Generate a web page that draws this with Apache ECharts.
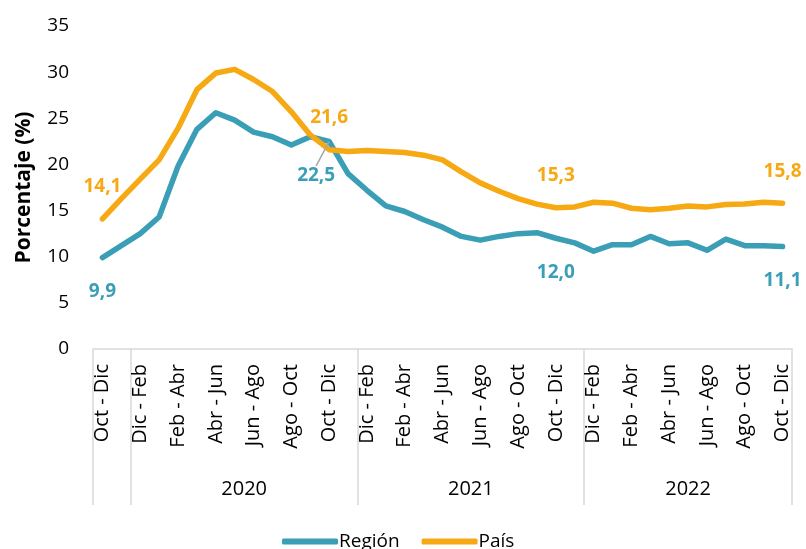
<!DOCTYPE html>
<html>
<head>
<meta charset="utf-8">
<script src="https://cdn.jsdelivr.net/npm/echarts@6/dist/echarts.min.js"></script>
<style>
  html, body { margin: 0; padding: 0; background: #fff; }
  #chart { width: 806px; height: 549px; }
</style>
</head>
<body>
<div id="chart"></div>
<script>
    // trimestres móviles, oct-dic 2019 a oct-dic 2022
    var categories = [
        'Oct - Dic', 'Nov - Ene',
        'Dic - Feb', 'Ene - Mar', 'Feb - Abr', 'Mar - May', 'Abr - Jun', 'May - Jul',
        'Jun - Ago', 'Jul - Sep', 'Ago - Oct', 'Sep - Nov', 'Oct - Dic', 'Nov - Ene',
        'Dic - Feb', 'Ene - Mar', 'Feb - Abr', 'Mar - May', 'Abr - Jun', 'May - Jul',
        'Jun - Ago', 'Jul - Sep', 'Ago - Oct', 'Sep - Nov', 'Oct - Dic', 'Nov - Ene',
        'Dic - Feb', 'Ene - Mar', 'Feb - Abr', 'Mar - May', 'Abr - Jun', 'May - Jul',
        'Jun - Ago', 'Jul - Sep', 'Ago - Oct', 'Sep - Nov', 'Oct - Dic'
    ];
    var regionValues = [
        9.9, 11.2, 12.5, 14.3, 19.8, 23.8, 25.6, 24.8, 23.5, 23.0, 22.1, 23.0, 22.5,
        19.0, 17.2, 15.5, 14.9, 14.0, 13.2, 12.2, 11.8, 12.2, 12.5, 12.6, 12.0,
        11.5, 10.6, 11.3, 11.3, 12.2, 11.4, 11.5, 10.7, 11.9, 11.2, 11.2, 11.1
    ];
    var paisValues = [
        14.1, 16.3, 18.4, 20.5, 23.9, 28.1, 29.9, 30.3, 29.2, 27.9, 25.7, 23.2, 21.6,
        21.4, 21.5, 21.4, 21.3, 21.0, 20.5, 19.2, 18.0, 17.1, 16.3, 15.7, 15.3,
        15.4, 15.9, 15.8, 15.25, 15.1, 15.25, 15.5, 15.4, 15.65, 15.7, 15.9, 15.8
    ];
    var labelIndexes = [0, 12, 24, 36];
    var yearLabels = ['2020', '2021', '2022'];
    var yearCenters = [8, 20, 31.5];
    var yearBounds = [0, 2, 14, 26, 37];

    var font = 'Open Sans';

    function withLabels(values, position, leaderIndex) {
        return values.map(function (v, i) {
            if (labelIndexes.indexOf(i) < 0) return v;
            var item = { value: v, label: { show: true, position: position } };
            if (i === leaderIndex) item.labelLine = { show: true };
            return item;
        });
    }

    function fmt(p) {
        return p.value.toFixed(1).replace('.', ',');
    }

    var chart = echarts.init(document.getElementById('chart'));
    var option = {
        animation: false,
        grid: { left: 93, right: 14, top: 26, bottom: 200 },
        legend: {
            top: 527,
            left: 277,
            itemWidth: 56,
            itemHeight: 6,
            itemGap: 22,
            icon: 'roundRect',
            textStyle: { fontFamily: font, fontSize: 19, color: '#000', padding: [0, 0, 0, -4] },
            data: ['Región', 'País']
        },
        xAxis: [
            {
                type: 'category',
                data: categories,
                boundaryGap: true,
                axisLine: { lineStyle: { color: '#d9d9d9', width: 1.5 } },
                axisTick: { show: false },
                axisLabel: {
                    interval: 1,
                    rotate: 90,
                    margin: 15,
                    fontFamily: font,
                    fontSize: 20,
                    color: '#000'
                }
            },
            {
                type: 'value',
                min: 0,
                max: 37,
                position: 'bottom',
                axisLine: { show: false },
                splitLine: { show: false },
                axisTick: {
                    show: true,
                    customValues: yearBounds,
                    length: 156,
                    lineStyle: { color: '#d9d9d9', width: 1.5 }
                },
                axisLabel: {
                    customValues: yearCenters,
                    margin: 130,
                    fontFamily: font,
                    fontSize: 20,
                    color: '#000',
                    formatter: function (v) {
                        return yearLabels[yearCenters.indexOf(v)];
                    }
                }
            }
        ],
        yAxis: {
            type: 'value',
            min: 0,
            max: 35,
            interval: 5,
            name: 'Porcentaje (%)',
            nameLocation: 'middle',
            nameGap: 58,
            nameTextStyle: { fontFamily: font, fontSize: 21, fontWeight: 'bold', color: '#000' },
            axisLine: { show: false },
            axisTick: { show: false },
            splitLine: { show: false },
            axisLabel: { margin: 24, fontFamily: font, fontSize: 19, color: '#000' }
        },
        series: [
            {
                name: 'Región',
                type: 'line',
                data: withLabels(regionValues, 'bottom', 12),
                color: '#3a9eb6',
                symbol: 'circle',
                symbolSize: 1,
                showSymbol: true,
                showAllSymbol: true,
                lineStyle: { width: 5.5, cap: 'round', join: 'round' },
                label: {
                    distance: 24,
                    fontFamily: font,
                    fontSize: 19,
                    fontWeight: 'bold',
                    color: '#3a9eb6',
                    formatter: fmt
                },
                labelLine: { show: false, lineStyle: { color: '#a6a6a6', width: 1.5 } },
                labelLayout: function (params) {
                    if (params.dataIndex === 12) return { dx: -13 };
                    return {};
                }
            },
            {
                name: 'País',
                type: 'line',
                data: withLabels(paisValues, 'top', -1),
                color: '#f6a912',
                symbol: 'circle',
                symbolSize: 1,
                showSymbol: true,
                showAllSymbol: true,
                lineStyle: { width: 5.5, cap: 'round', join: 'round' },
                label: {
                    distance: 22,
                    fontFamily: font,
                    fontSize: 19,
                    fontWeight: 'bold',
                    color: '#f6a912',
                    formatter: fmt
                }
            }
        ]
    };
    chart.setOption(option);
</script>
</body>
</html>
